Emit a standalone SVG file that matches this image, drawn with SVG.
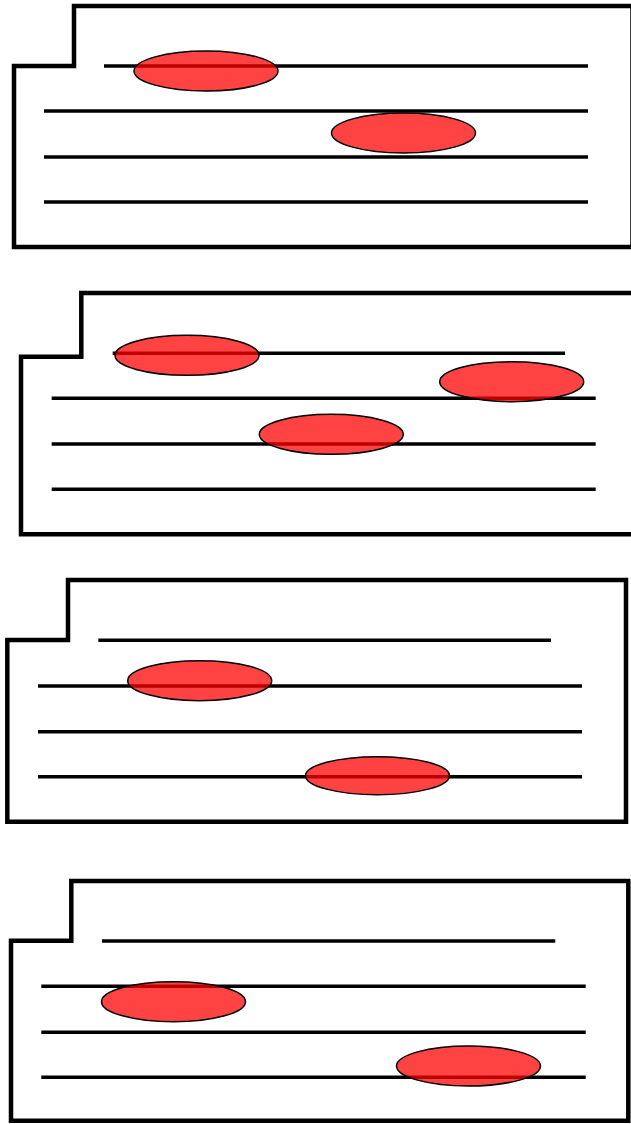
<svg xmlns="http://www.w3.org/2000/svg" width="631" height="1124" viewBox="0 0 631 1124">
  <style>
    .folder { fill: #ffffff; stroke: #000000; stroke-width: 4.5; stroke-linejoin: miter; }
    .rule { stroke: #000000; stroke-width: 3.4; fill: none; }
    .blob { fill: #ff0000; fill-opacity: 0.74; stroke: #000000; stroke-width: 1.5; }
  </style>
  <rect width="631" height="1124" fill="#ffffff"/>

  <!-- Panel 1 -->
  <g id="panel1">
    <path class="folder" d="M14,66 H74 V6 H632.5 V247 H14 Z"/>
    <line class="rule" x1="104" y1="66" x2="588" y2="66"/>
    <line class="rule" x1="44" y1="111" x2="588" y2="111"/>
    <line class="rule" x1="44" y1="157" x2="588" y2="157"/>
    <line class="rule" x1="44" y1="202" x2="588" y2="202"/>
    <ellipse class="blob" cx="206" cy="71" rx="72" ry="20"/>
    <ellipse class="blob" cx="403.5" cy="133" rx="72" ry="20"/>
  </g>

  <!-- Panel 2 -->
  <g id="panel2">
    <path class="folder" d="M21,356.7 H81.3 V293 H636 V534.3 H21 Z"/>
    <line class="rule" x1="112.7" y1="353.3" x2="565" y2="353.3"/>
    <line class="rule" x1="51.7" y1="398.3" x2="595.7" y2="398.3"/>
    <line class="rule" x1="51.7" y1="444" x2="595.7" y2="444"/>
    <line class="rule" x1="51.7" y1="489.3" x2="595.7" y2="489.3"/>
    <ellipse class="blob" cx="187" cy="355.3" rx="72" ry="20"/>
    <ellipse class="blob" cx="511.7" cy="381.7" rx="72" ry="20"/>
    <ellipse class="blob" cx="331.3" cy="434.3" rx="72" ry="20"/>
  </g>

  <!-- Panel 3 -->
  <g id="panel3">
    <path class="folder" d="M7.3,640 H68 V580 H626 V821.7 H7.3 Z"/>
    <line class="rule" x1="98.3" y1="640.3" x2="551" y2="640.3"/>
    <line class="rule" x1="38" y1="686" x2="582" y2="686"/>
    <line class="rule" x1="38" y1="731.7" x2="582" y2="731.7"/>
    <line class="rule" x1="38" y1="776.7" x2="582" y2="776.7"/>
    <ellipse class="blob" cx="199.7" cy="680.7" rx="72" ry="20"/>
    <ellipse class="blob" cx="377.5" cy="775.7" rx="72" ry="19"/>
  </g>

  <!-- Panel 4 -->
  <g id="panel4">
    <path class="folder" d="M11,940.7 H71.3 V881 H628.3 V1120.7 H11 Z"/>
    <line class="rule" x1="102" y1="941" x2="555.3" y2="941"/>
    <line class="rule" x1="41.3" y1="986.3" x2="585.7" y2="986.3"/>
    <line class="rule" x1="41.3" y1="1032.3" x2="585.7" y2="1032.3"/>
    <line class="rule" x1="41.3" y1="1077.3" x2="585.7" y2="1077.3"/>
    <ellipse class="blob" cx="173.5" cy="1001.7" rx="72" ry="20"/>
    <ellipse class="blob" cx="468.5" cy="1066" rx="72" ry="20"/>
  </g>

  <!-- no connectors in this drawing -->
  <g id="connectors"/>
</svg>
